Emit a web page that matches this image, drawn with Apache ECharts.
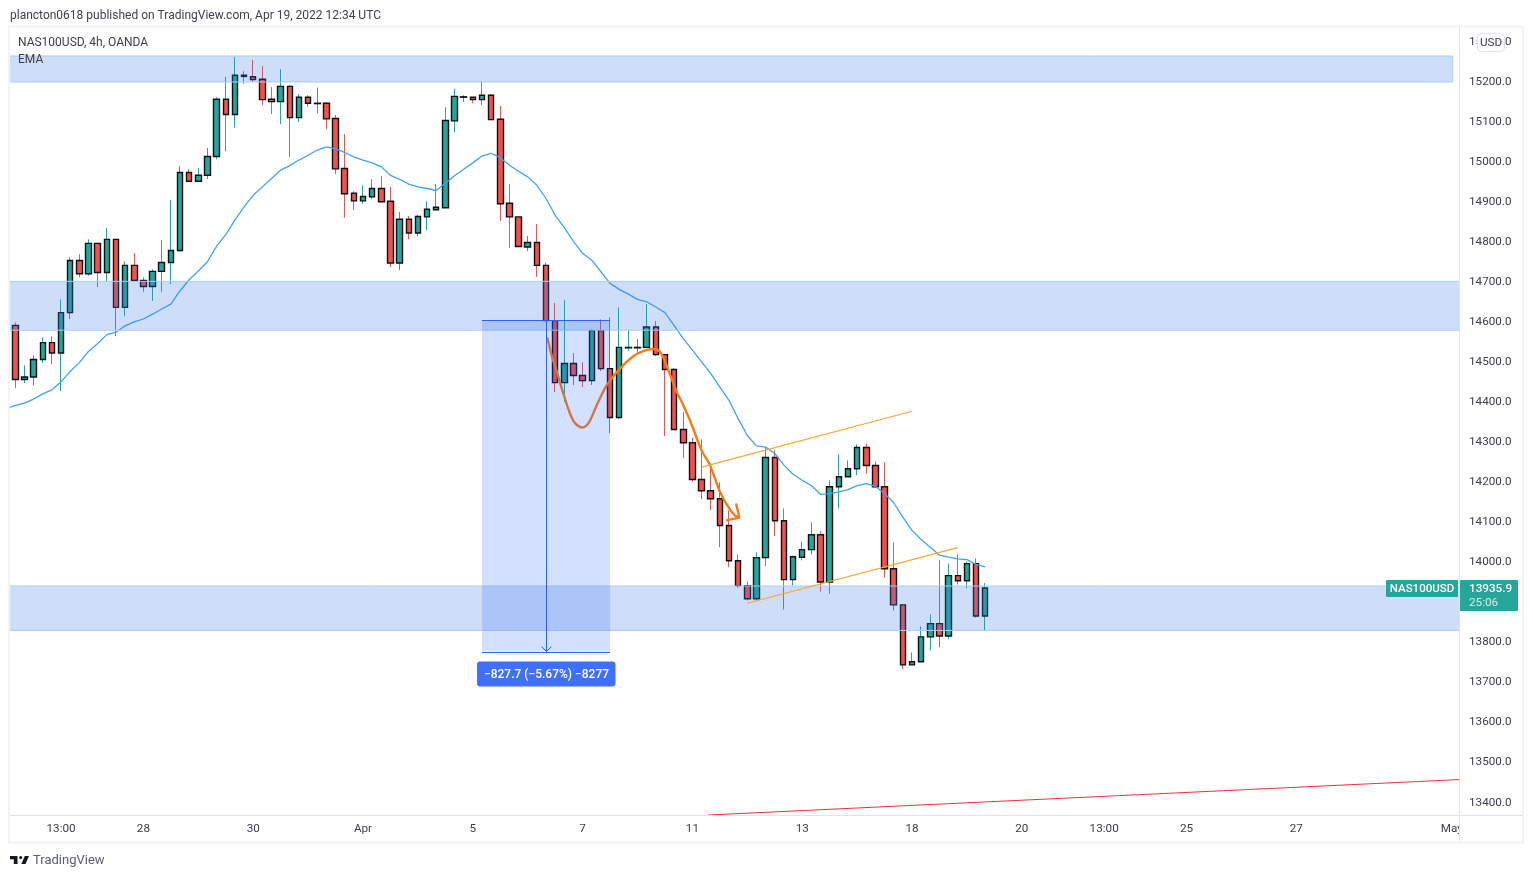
<!DOCTYPE html>
<html>
<head>
<meta charset="utf-8">
<style>html,body{margin:0;padding:0;background:#fff}#c{width:1533px;height:878px}</style>
<script src="https://cdn.jsdelivr.net/npm/echarts@6/dist/echarts.min.js"></script>
</head>
<body>
<div id="c"></div>
<script>
const opens  = [14592,14457,14463,14507,14549,14523,14624,14754,14721,14797,14724,14807,14637,14742,14704,14689,14727,14749,14779,14974,14952,14967,15014,15157,15119,15217,15213,15207,15157,15151,15189,15111,15162,15146,15147,15109,14984,14922,14903,14913,14934,14902,14748,14857,14823,14863,14881,14886,15103,15163,15162,15156,15167,15107,14897,14863,14788,14799,14742,14604,14449,14497,14467,14454,14579,14484,14362,14536,14537,14537,14588,14519,14482,14332,14299,14207,14179,14159,14092,14004,13942,13909,14012,14262,14104,13957,14013,14032,14069,13951,14189,14214,14234,14287,14242,14189,13984,13894,13744,13752,13814,13847,13816,13967,13954,13997,13866];
const highs  = [14599,14492,14517,14562,14565,14657,14762,14770,14807,14797,14835,14807,14752,14772,14712,14732,14805,14905,14990,14982,14985,15035,15162,15213,15262,15227,15255,15240,15187,15232,15192,15170,15167,15186,15150,15118,15070,14927,14942,14957,14965,14938,14875,14865,14868,14902,14945,15137,15183,15167,15162,15202,15170,15140,14945,14863,14815,14845,14749,14648,14655,14523,14500,14582,14607,14612,14637,14580,14558,14645,14603,14519,14485,14375,14312,14307,14247,14200,14130,14020,13952,14025,14287,14280,14135,14017,14052,14100,14078,14205,14270,14255,14295,14297,14252,14250,14050,13894,13775,13840,13870,14005,13997,14020,14002,14010,13948];
const lows   = [14436,14448,14442,14498,14495,14428,14608,14712,14716,14688,14701,14565,14615,14701,14676,14653,14676,14695,14776,14952,14952,14958,15007,15027,15086,15195,15200,15142,15120,15095,15012,15100,15138,15122,15082,14970,14861,14880,14896,14908,14901,14738,14730,14807,14815,14830,14881,14886,15075,15150,15147,15142,15106,14853,14785,14788,14778,14713,14604,14425,14401,14443,14438,14443,14478,14323,14358,14528,14522,14537,14516,14316,14332,14261,14201,14158,14131,14038,13988,13936,13905,13905,13991,14066,13882,13942,14005,14020,13927,13922,14135,14214,14218,14222,14186,13962,13880,13733,13744,13752,13780,13788,13808,13945,13935,13862,13830];
const closes = [14457,14463,14507,14549,14523,14624,14754,14721,14797,14724,14807,14637,14742,14704,14689,14727,14749,14779,14974,14952,14967,15014,15157,15119,15217,15214,15206,15156,15151,15189,15111,15162,15147,15147,15108,14983,14921,14903,14914,14934,14901,14748,14857,14823,14864,14882,14887,15104,15164,15162,15156,15167,15106,14896,14863,14789,14799,14742,14604,14449,14497,14467,14454,14579,14484,14362,14537,14537,14536,14588,14519,14482,14332,14299,14207,14179,14159,14092,14004,13942,13909,14012,14262,14104,13957,14014,14032,14069,13951,14189,14214,14234,14287,14242,14189,13984,13894,13744,13752,13814,13847,13816,13967,13954,13997,13866,13935.9];
// EMA values, first entry is one bar before the first visible candle
const ema = [14384,14392,14398,14408,14421,14431,14451,14477,14499,14527,14547,14569,14575,14591,14601,14608,14620,14633,14645,14678,14706,14728,14751,14790,14819,14855,14888,14917,14938,14959,14980,14991,15005,15017,15030,15038,15033,15024,15013,15005,14998,14988,14967,14957,14945,14938,14934,14929,14947,14966,14982,14998,15015,15022,15011,14992,14977,14963,14942,14909,14867,14836,14802,14772,14755,14726,14697,14682,14670,14657,14651,14638,14624,14592,14559,14530,14501,14472,14438,14405,14359,14317,14291,14288,14272,14243,14220,14205,14192,14170,14172,14176,14182,14192,14197,14190,14172,14149,14113,14080,14057,14038,14018,14013,14009,14007,13995,13989];

const xTickBars = [5,14,26,38,50,62,74,86,98,110,119,128,140,157];
const xTickText = ['13:00','28','30','Apr','5','7','11','13','18','20','13:00','25','27','May'];
const yTicks = [13400,13500,13600,13700,13800,13900,14000,14100,14200,14300,14400,14500,14600,14700,14800,14900,15000,15100,15200,15300];

const zones = [[-5,157.1,15265,15200],[-5,170,14702,14580],[-5,170,13941,13830]];
const measureBox = [51,65,14605,13777.3];
const measureBar = 58;
const measureText = '\u2212827.7 (\u22125.67%) \u22128277';
const lastPrice = 13935.9;

const trendA = [[75,14238],[98,14377.5]];
const trendB = [[80,13898],[103,14037]];
const trendRed = [[75.7,13368.9],[157.8,13457.5]];
const brush = [[58.14,14562],[58.62,14517],[59.24,14472],[59.89,14422],[60.62,14372],[61.17,14348],[62,14337],[62.73,14351],[63.53,14392],[64.63,14442],[66.08,14484],[67.54,14515],[68.63,14528],[69.73,14533],[70.46,14526],[71.18,14492],[72.28,14426],[72.75,14405],[73.73,14355],[75,14280],[75.92,14243],[77.02,14176],[77.93,14138],[78.66,14117],[79.13,14112]];
const brushHead = [[77.67,14105],[79.13,14112],[78.77,14147]];

const FONT = 'Roboto';
const GREEN = '#26a69a', RED = '#ef5350', EDGE = '#0e1014';

const wickRows = opens.map((o,i)=>[i,o,closes[i],lows[i],highs[i]]);
const bodyRows = opens.map((o,i)=>[i,o,closes[i],Math.min(o,closes[i]),Math.max(o,closes[i])]);

function lineSeries(data,color,width,z,extra){
  return Object.assign({type:'line',data,showSymbol:false,symbol:'none',silent:true,z,clip:true,
    lineStyle:{color,width},emphasis:{disabled:true}},extra||{});
}

const opt = {
  animation:false,
  backgroundColor:'#fff',
  textStyle:{fontFamily:FONT},
  grid:{left:10,top:27,width:1449,height:788,containLabel:false},
  xAxis:{type:'value',min:-0.58,max:157.78,splitLine:{show:false},axisLine:{show:false},axisTick:{show:false},
    axisLabel:{customValues:xTickBars,color:'#3d3f47',fontSize:11.7,fontFamily:FONT,margin:8,
      formatter:v=>xTickText[xTickBars.indexOf(v)]}},
  yAxis:{type:'value',position:'right',min:13369,max:15337.4,splitLine:{show:false},axisLine:{show:false},axisTick:{show:false},
    axisLabel:{customValues:yTicks,color:'#3d3f47',fontSize:11.7,fontFamily:FONT,margin:10,padding:[4,0,0,0],formatter:v=>v.toFixed(1)}},
  series:[
    {type:'candlestick',name:'wicks',data:wickRows,barWidth:1,silent:true,z:2,
      itemStyle:{color:GREEN,color0:RED,borderColor:GREEN,borderColor0:RED,borderWidth:1}},
    {type:'candlestick',name:'NAS100USD',data:bodyRows,barWidth:6,silent:true,z:3,
      itemStyle:{color:GREEN,color0:RED,borderColor:EDGE,borderColor0:EDGE,borderWidth:1.4}},
    lineSeries(ema.map((v,i)=>[i-1,v]),'#3fa3f5',1.3,4),
    lineSeries(brush,'#f57c17',2.4,4,{smooth:0.3}),
    lineSeries(brushHead,'#f57c17',2.4,4),
    {type:'custom',silent:true,z:5,clip:true,data:zones,
      renderItem(p,api){
        const a=api.coord([api.value(0),api.value(2)]), b=api.coord([api.value(1),api.value(3)]);
        return {type:'rect',shape:{x:a[0],y:a[1],width:b[0]-a[0],height:b[1]-a[1]},
          style:{fill:'rgba(60,124,228,0.25)',stroke:'#a9cdf7',lineWidth:1}};
      }},
    lineSeries(trendA,'#f7a72e',1.2,5.5),
    lineSeries(trendB,'#f7a72e',1.2,5.5),
    lineSeries(trendRed,'#f2303a',1,5.5),
    {type:'custom',silent:true,z:6,clip:false,data:[measureBox],
      renderItem(p,api){
        const a=api.coord([api.value(0),api.value(2)]), b=api.coord([api.value(1),api.value(3)]);
        const xm=Math.round(api.coord([measureBar,api.value(2)])[0])+0.5;
        const yt=Math.round(a[1])+0.5, yb=Math.round(b[1])+0.5;
        const stroke={stroke:'#2962ff',lineWidth:1,fill:null};
        const cy=yb+21.5;
        return {type:'group',children:[
          {type:'rect',shape:{x:a[0],y:a[1],width:b[0]-a[0],height:b[1]-a[1]},style:{fill:'rgba(41,98,255,0.2)'}},
          {type:'line',shape:{x1:a[0],y1:yt,x2:b[0],y2:yt},style:stroke},
          {type:'line',shape:{x1:a[0],y1:yb,x2:b[0],y2:yb},style:stroke},
          {type:'line',shape:{x1:xm,y1:yt,x2:xm,y2:yb},style:stroke},
          {type:'polyline',shape:{points:[[xm-5,yb-6],[xm,yb-1],[xm+5,yb-6]]},style:stroke},
          {type:'rect',shape:{x:xm-69.5,y:cy-12.5,width:138.5,height:25,r:3},style:{fill:'#3f70fb'}},
          {type:'text',style:{x:xm,y:cy+0.5,text:measureText,fill:'#fff',font:'500 12px '+FONT,textAlign:'center',textVerticalAlign:'middle'}}
        ]};
      }},
    {type:'custom',silent:true,z:7,clip:false,data:[[157.78,lastPrice]],
      renderItem(p,api){
        const c=api.coord([api.value(0),api.value(1)]);
        const x=c[0],y=Math.round(c[1])+1;
        return {type:'group',children:[
          {type:'rect',shape:{x:x-73,y:y-9,width:72,height:17,r:1},style:{fill:GREEN}},
          {type:'text',style:{x:x-37,y:y+0.5,text:'NAS100USD',fill:'#fff',font:'500 11.5px '+FONT,textAlign:'center',textVerticalAlign:'middle'}},
          {type:'rect',shape:{x:x,y:y-9,width:59,height:31,r:1},style:{fill:GREEN}},
          {type:'text',style:{x:x+10,y:y+0.5,text:lastPrice.toFixed(1),fill:'#fff',font:'500 11.7px '+FONT,textAlign:'left',textVerticalAlign:'middle'}},
          {type:'text',style:{x:x+10,y:y+14.5,text:'25:06',fill:'#d4eeeb',font:'11.7px '+FONT,textAlign:'left',textVerticalAlign:'middle'}}
        ]};
      }}
  ],
  graphic:[
    {type:'rect',z:50,shape:{x:1460,y:816,width:62,height:26},style:{fill:'#fff'}},
    {type:'rect',z:60,shape:{x:9,y:26.5,width:1514,height:816},style:{fill:null,stroke:'#f0f3fa',lineWidth:2}},
    {type:'line',z:60,shape:{x1:10,y1:815.5,x2:1522,y2:815.5},style:{stroke:'#e0e3eb',lineWidth:1}},
    {type:'line',z:60,shape:{x1:1459.5,y1:27,x2:1459.5,y2:842},style:{stroke:'#e0e3eb',lineWidth:1}},
    {type:'text',z:60,style:{x:10,y:16,text:'plancton0618 published on TradingView.com, Apr 19, 2022 12:34 UTC',fill:'#3d3f47',font:'12px '+FONT,textVerticalAlign:'middle'}},
    {type:'text',z:60,style:{x:18,y:43,text:'NAS100USD, 4h, OANDA',fill:'#3d3f47',font:'12px '+FONT,textVerticalAlign:'middle'}},
    {type:'text',z:60,style:{x:18,y:60,text:'EMA',fill:'#3d3f47',font:'12px '+FONT,textVerticalAlign:'middle'}},
    {type:'rect',z:70,shape:{x:1477.5,y:33.5,width:27,height:18,r:4},style:{fill:'#fff',stroke:'#e0e3eb',lineWidth:1}},
    {type:'text',z:71,style:{x:1491,y:43.5,text:'USD',fill:'#3d3f47',font:'11.7px '+FONT,textAlign:'center',textVerticalAlign:'middle'}},
    {type:'polygon',z:60,shape:{points:[[10,856],[17.5,856],[17.5,864],[13.8,864],[13.8,859.2],[10,859.2]]},style:{fill:'#131722'}},
    {type:'circle',z:60,shape:{cx:20.7,cy:857.6,r:1.6},style:{fill:'#131722'}},
    {type:'polygon',z:60,shape:{points:[[24.8,856],[29,856],[25.5,864],[21.3,864]]},style:{fill:'#131722'}},
    {type:'text',z:60,style:{x:33,y:861,text:'TradingView',fill:'#5a5d68',font:'13px '+FONT,textVerticalAlign:'middle'}}
  ]
};
echarts.init(document.getElementById('c'),null,{renderer:'canvas'}).setOption(opt);
</script>
</body>
</html>
